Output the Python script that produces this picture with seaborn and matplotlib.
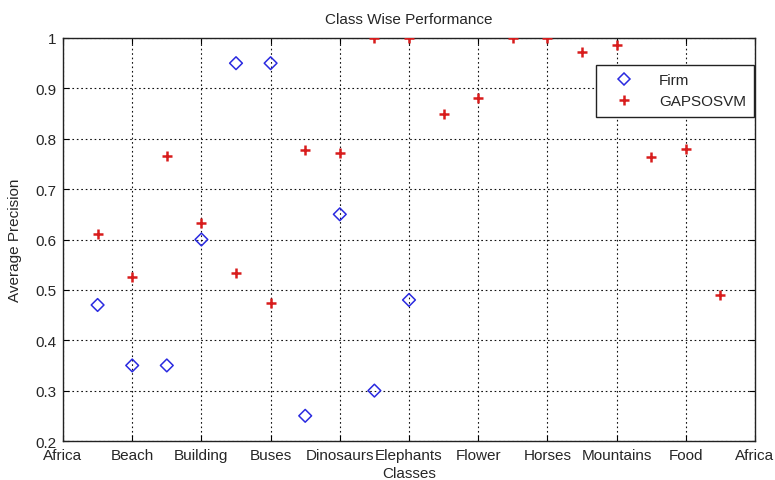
import matplotlib
matplotlib.use("Agg")
import matplotlib.pyplot as plt
import seaborn as sns
import pandas as pd
from matplotlib.lines import Line2D

# Class labels on the x axis (ticks every two positions, wrapping back to Africa)
tick_labels = ["Africa", "Beach", "Building", "Buses", "Dinosaurs", "Elephants",
               "Flower", "Horses", "Mountains", "Food", "Africa"]
tick_positions = [0, 2, 4, 6, 8, 10, 12, 14, 16, 18, 20]

# Average precision per sample index
firm_x = [1, 2, 3, 4, 5, 6, 7, 8, 9, 10]
firm_y = [0.47, 0.35, 0.35, 0.60, 0.95, 0.95, 0.25, 0.65, 0.30, 0.48]

gapso_x = list(range(1, 20))
gapso_y = [0.61, 0.525, 0.766, 0.633, 0.533, 0.474, 0.778, 0.772, 1.0, 1.0,
           0.849, 0.881, 1.0, 1.0, 0.972, 0.986, 0.763, 0.779, 0.49]

firm_df = pd.DataFrame({"x": firm_x, "y": firm_y})
gapso_df = pd.DataFrame({"x": gapso_x, "y": gapso_y})

sns.set_theme(style="white")
plt.rcParams["font.family"] = ["Liberation Sans", "DejaVu Sans"]

FS = 11
TXT = "#262626"
BLUE = "#2a2ae0"
RED = "#d81c1c"

fig = plt.figure(figsize=(7.75, 4.81), dpi=100)
ax = fig.add_axes([63 / 775, 1 - 442 / 481, 692 / 775, 403 / 481])

sns.scatterplot(data=firm_df, x="x", y="y", ax=ax, marker="D", s=42,
                facecolor="none", edgecolor=BLUE, linewidth=1.1, zorder=3)
sns.scatterplot(data=gapso_df, x="x", y="y", ax=ax, marker="+", s=42,
                color=RED, linewidth=1.8, zorder=3)

ax.set_xlim(0, 20)
ax.set_ylim(0.2, 1.0)
ax.set_xticks(tick_positions)
ax.set_xticklabels(tick_labels)
yt = [0.2, 0.3, 0.4, 0.5, 0.6, 0.7, 0.8, 0.9, 1.0]
ax.set_yticks(yt)
ax.set_yticklabels(["0.2", "0.3", "0.4", "0.5", "0.6", "0.7", "0.8", "0.9", "1"])

ax.grid(True, color="#111111", linestyle=(0, (1.5, 2.5)), linewidth=0.8)
ax.set_axisbelow(True)
for sp in ax.spines.values():
    sp.set_color("#222222")
    sp.set_linewidth(1.0)

ax.tick_params(direction="in", length=4, width=0.8, color="black",
               labelsize=FS, labelcolor=TXT, pad=5,
               top=True, right=True, bottom=True, left=True)

ax.set_title("Class Wise Performance", fontsize=FS, color=TXT, pad=11)
ax.set_xlabel("Classes", fontsize=FS, color=TXT, labelpad=3)
ax.set_ylabel("Average Precision", fontsize=FS, color=TXT, labelpad=9)

handles = [
    Line2D([], [], linestyle="none", marker="D", markersize=6.5,
           markerfacecolor="none", markeredgecolor=BLUE, markeredgewidth=1.1),
    Line2D([], [], linestyle="none", marker="+", markersize=6.5,
           color=RED, markeredgewidth=1.8),
]
leg = ax.legend(handles, ["Firm", "GAPSOSVM"], loc="upper right",
                bbox_to_anchor=(0.999, 0.933), borderaxespad=0,
                fontsize=FS, fancybox=False,
                framealpha=1, edgecolor="#222222", borderpad=0.55,
                handletextpad=1.0, labelspacing=0.45, handlelength=2.6)
leg.get_frame().set_linewidth(1.0)
for t in leg.get_texts():
    t.set_color(TXT)

fig.savefig("out.png", dpi=100)
